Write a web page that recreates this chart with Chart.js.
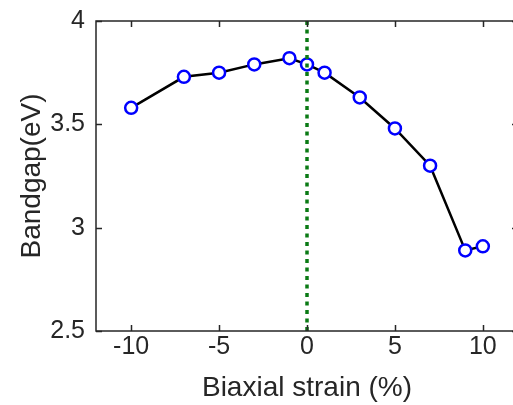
<!DOCTYPE html>
<html>
<head>
<meta charset="utf-8">
<script src="https://cdn.jsdelivr.net/npm/chart.js@4"></script>
<style>
  html, body { margin: 0; padding: 0; background: #ffffff; overflow: hidden; }
  #wrap { width: 530px; height: 405px; }
</style>
</head>
<body>
<div id="wrap"><canvas id="c" width="530" height="405"></canvas></div>
<script>
// Data
const strain = [-10, -7, -5, -3, -1, 0, 1, 3, 5, 7, 9, 10];
const bandgap = [3.58, 3.73, 3.75, 3.79, 3.82, 3.79, 3.75, 3.63, 3.48, 3.30, 2.89, 2.91];
const xTicks = [-10, -5, 0, 5, 10];
const yTicks = [2.5, 3, 3.5, 4];
const refLineX = [0, 0];
const refLineY = [2.5, 4];

const AX = '#262626';
const FONT = "'Liberation Sans', Arial, Helvetica, sans-serif";

const innerTicks = {
  id: 'innerTicks',
  afterDatasetsDraw(chart) {
    const {ctx, chartArea: a, scales: {x, y}} = chart;
    const L = 6;
    ctx.save();
    ctx.strokeStyle = AX;
    ctx.lineWidth = 1.5;
    ctx.strokeRect(a.left, a.top, a.right - a.left, a.bottom - a.top);
    ctx.beginPath();
    xTicks.forEach(v => {
      const px = Math.round(x.getPixelForValue(v)) + 0.5;
      ctx.moveTo(px, a.bottom); ctx.lineTo(px, a.bottom - L);
      ctx.moveTo(px, a.top); ctx.lineTo(px, a.top + L);
    });
    yTicks.forEach(v => {
      const py = Math.round(y.getPixelForValue(v)) + 0.5;
      ctx.moveTo(a.left, py); ctx.lineTo(a.left + L, py);
      ctx.moveTo(a.right, py); ctx.lineTo(a.right - L, py);
    });
    ctx.stroke();
    ctx.restore();
  }
};

new Chart(document.getElementById('c'), {
  type: 'scatter',
  data: {
    datasets: [
      {
        data: refLineX.map((v, i) => ({x: v, y: refLineY[i]})),
        showLine: true,
        borderColor: '#0a7a14',
        borderWidth: 3.5,
        borderDash: [4, 4.5],
        pointRadius: 0,
        fill: false
      },
      {
        data: strain.map((v, i) => ({x: v, y: bandgap[i]})),
        showLine: true,
        borderColor: '#000000',
        borderWidth: 2.5,
        pointRadius: 6,
        pointBorderWidth: 2.5,
        pointBorderColor: '#0000ff',
        pointBackgroundColor: '#ffffff',
        fill: false,
        tension: 0
      }
    ]
  },
  options: {
    responsive: false,
    animation: false,
    events: [],
    layout: { padding: { top: 21, right: 12, left: 0, bottom: 0 } },
    plugins: { legend: { display: false }, tooltip: { enabled: false } },
    scales: {
      x: {
        type: 'linear',
        min: -12, max: 12,
        afterBuildTicks: s => { s.ticks = xTicks.map(v => ({value: v})); },
        afterFit: s => { s.height = 74; },
        grid: { display: false, drawTicks: false },
        border: { display: false },
        ticks: {
          color: AX, padding: 4,
          font: { family: FONT, size: 25, lineHeight: 1 },
          callback: v => String(v)
        },
        title: {
          display: true, text: 'Biaxial strain (%)', color: AX,
          font: { family: FONT, size: 28 },
          padding: { top: 0, bottom: 0 }
        }
      },
      y: {
        type: 'linear',
        min: 2.5, max: 4,
        afterBuildTicks: s => { s.ticks = yTicks.map(v => ({value: v})); },
        afterFit: s => { s.width = 96; s.paddingTop = 0; s.paddingBottom = 0; },
        grid: { display: false, drawTicks: false },
        border: { display: false },
        ticks: {
          color: AX, padding: 11,
          font: { family: FONT, size: 25, lineHeight: 1 },
          callback: v => String(v)
        },
        title: {
          display: true, text: 'Bandgap(eV)', color: AX,
          font: { family: FONT, size: 28 },
          padding: { top: 15, bottom: 0 }
        }
      }
    }
  },
  plugins: [innerTicks]
});
</script>
</body>
</html>
